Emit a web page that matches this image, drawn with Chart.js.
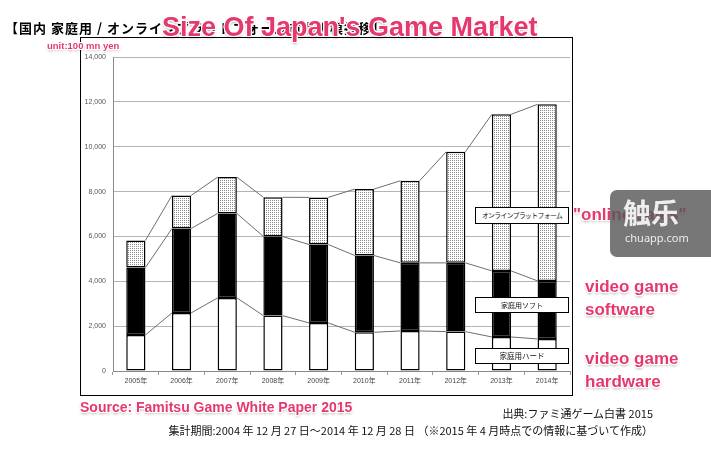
<!DOCTYPE html>
<html><head><meta charset="utf-8">
<script src="https://cdn.jsdelivr.net/npm/chart.js@4"></script>
<style>
html,body{margin:0;padding:0;background:#fff;}
#wrap{position:relative;width:711px;height:449px;overflow:hidden;background:#fff;}
#frame{position:absolute;left:80px;top:37px;width:491px;height:357px;border:1.5px solid #000;}
canvas{position:absolute;left:0;top:0;}
.t{position:absolute;white-space:nowrap;}
.pink{color:#e5396d;font-family:"Liberation Sans",Arial,sans-serif;font-weight:bold;text-shadow:1px 0 0 #fff,-1px 0 0 #fff,0 1px 0 #fff,0 -1px 0 #fff,1px 1px 0 #fff,-1px -1px 0 #fff,1px -1px 0 #fff,-1px 1px 0 #fff,0 2px 3px rgba(0,0,0,0.35);}
.jp{font-family:"Noto Sans CJK JP",sans-serif;color:#111;}
.box{position:absolute;left:475px;width:92px;border:1.2px solid #000;background:#fff;font-family:"Noto Sans CJK JP",sans-serif;font-size:7px;color:#111;text-align:center;white-space:nowrap;}
#wm{position:absolute;left:610px;top:190px;width:110px;height:67px;border-radius:7px;background:rgba(85,85,85,0.8);}
</style></head>
<body>
<div id="wrap">
<div id="frame"></div>
<canvas id="c" width="711" height="449"></canvas>
<div class="t jp" style="left:5px;top:20.5px;font-size:13px;line-height:13px;font-weight:bold;letter-spacing:1px;color:#000;">【国内 家庭用 / オンラインプラットフォーム市場規模推移】</div>
<div class="t pink" style="left:162px;top:14px;font-size:27px;line-height:27px;">Size Of Japan's Game Market</div>
<div class="t pink" style="left:47px;top:41px;font-size:9.5px;line-height:9.5px;">unit:100 mn yen</div>
<div class="box" style="top:207px;height:15px;line-height:15px;font-size:6.8px;letter-spacing:-0.6px;">オンラインプラットフォーム</div>
<div class="box" style="top:296.5px;height:14px;line-height:14px;">家庭用ソフト</div>
<div class="box" style="top:348px;height:14px;line-height:14px;font-size:7.5px;">家庭用ハード</div>
<div class="t pink" style="left:573px;top:206px;font-size:17px;line-height:17px;">"online sales"</div>
<div class="t pink" style="left:585px;top:274.5px;font-size:17px;line-height:23px;">video game<br>software</div>
<div class="t pink" style="left:585px;top:346.5px;font-size:17px;line-height:23px;">video game<br>hardware</div>
<div class="t pink" style="left:80px;top:400px;font-size:14px;line-height:14px;">Source: Famitsu Game White Paper 2015</div>
<div class="t jp" style="right:58px;top:406px;font-size:11px;line-height:14px;">出典:ファミ通ゲーム白書 2015</div>
<div class="t jp" style="right:58px;top:423px;font-size:11px;line-height:14px;">集計期間:2004 年 12 月 27 日～2014 年 12 月 28 日 （※2015 年 4 月時点での情報に基づいて作成）</div>
<div id="wm">
  <div class="t" style="left:13px;top:6px;font-family:'Noto Sans CJK SC',sans-serif;font-size:28px;line-height:32px;color:#eeeeee;font-weight:bold;">触乐</div>
  <div class="t" style="left:15px;top:41px;font-family:'Noto Sans',sans-serif;font-size:11px;line-height:14px;color:#eee;">chuapp.com</div>
</div>
</div>
<script>
const categories = ['2005年','2006年','2007年','2008年','2009年','2010年','2011年','2012年','2013年','2014年'];
const hardware = [1607, 2589, 3259, 2470, 2143, 1726, 1786, 1756, 1518, 1429];
const software = [3005, 3764, 3765, 3527, 3497, 3423, 3035, 3065, 2946, 2589];
const online   = [1210, 1473, 1622, 1748, 2100, 2961, 3661, 4949, 6979, 7872];
const seriesNames = ['家庭用ハード', '家庭用ソフト', 'オンラインプラットフォーム'];
const yMax = 14000;
const yStep = 2000;

function dotPattern(){
  const p = document.createElement('canvas');
  p.width = 2; p.height = 2;
  const g = p.getContext('2d');
  g.fillStyle = '#ffffff'; g.fillRect(0,0,2,2);
  g.fillStyle = '#8a8a8a'; g.fillRect(0,0,1,1);
  return g.createPattern(p, 'repeat');
}

const connectors = {
  id: 'connectors',
  afterDatasetsDraw(chart){
    const ctx = chart.ctx;
    ctx.save();
    ctx.strokeStyle = '#6e6e6e';
    ctx.lineWidth = 1;
    chart.data.datasets.forEach((ds, i) => {
      const els = chart.getDatasetMeta(i).data;
      ctx.beginPath();
      for (let j = 0; j < els.length - 1; j++) {
        const a = els[j], b = els[j+1];
        ctx.moveTo(a.x + a.width/2, a.y);
        ctx.lineTo(b.x - b.width/2, b.y);
      }
      ctx.stroke();
    });
    ctx.restore();
  }
};

Chart.defaults.font.family = '"Liberation Sans", "Noto Sans CJK JP", sans-serif';

new Chart(document.getElementById('c'), {
  type: 'bar',
  data: {
    labels: categories,
    datasets: [
      {label: seriesNames[0], data: hardware, backgroundColor: '#ffffff', borderColor: '#000', borderWidth: 1.5, borderSkipped: false},
      {label: seriesNames[1], data: software, backgroundColor: '#000000', borderColor: '#000', borderWidth: 1.5, borderSkipped: false},
      {label: seriesNames[2], data: online, backgroundColor: dotPattern(), borderColor: '#000', borderWidth: 1.5, borderSkipped: false}
    ]
  },
  options: {
    responsive: false,
    animation: false,
    layout: {padding: {left: 0, right: 141, top: 57, bottom: 0}},
    datasets: {bar: {barPercentage: 0.42, categoryPercentage: 1.0}},
    plugins: {legend: {display: false}, tooltip: {enabled: false}},
    scales: {
      x: {
        stacked: true,
        grid: {display: true, drawOnChartArea: false, drawTicks: true, tickLength: 4, color: '#999'},
        border: {color: '#8a8a8a'},
        ticks: {font: {size: 7}, color: '#444', padding: 2, maxRotation: 0, autoSkip: false},
        afterFit: s => { s.height = 78; }
      },
      y: {
        stacked: true,
        min: 0, max: yMax,
        ticks: {stepSize: yStep, font: {size: 7}, color: '#555', padding: 7,
                callback: v => v.toLocaleString('en-US')},
        grid: {color: '#b4b4b4', drawTicks: false},
        border: {color: '#8a8a8a'},
        afterFit: s => { s.width = 113; }
      }
    }
  },
  plugins: [connectors]
});
</script>
</body></html>
